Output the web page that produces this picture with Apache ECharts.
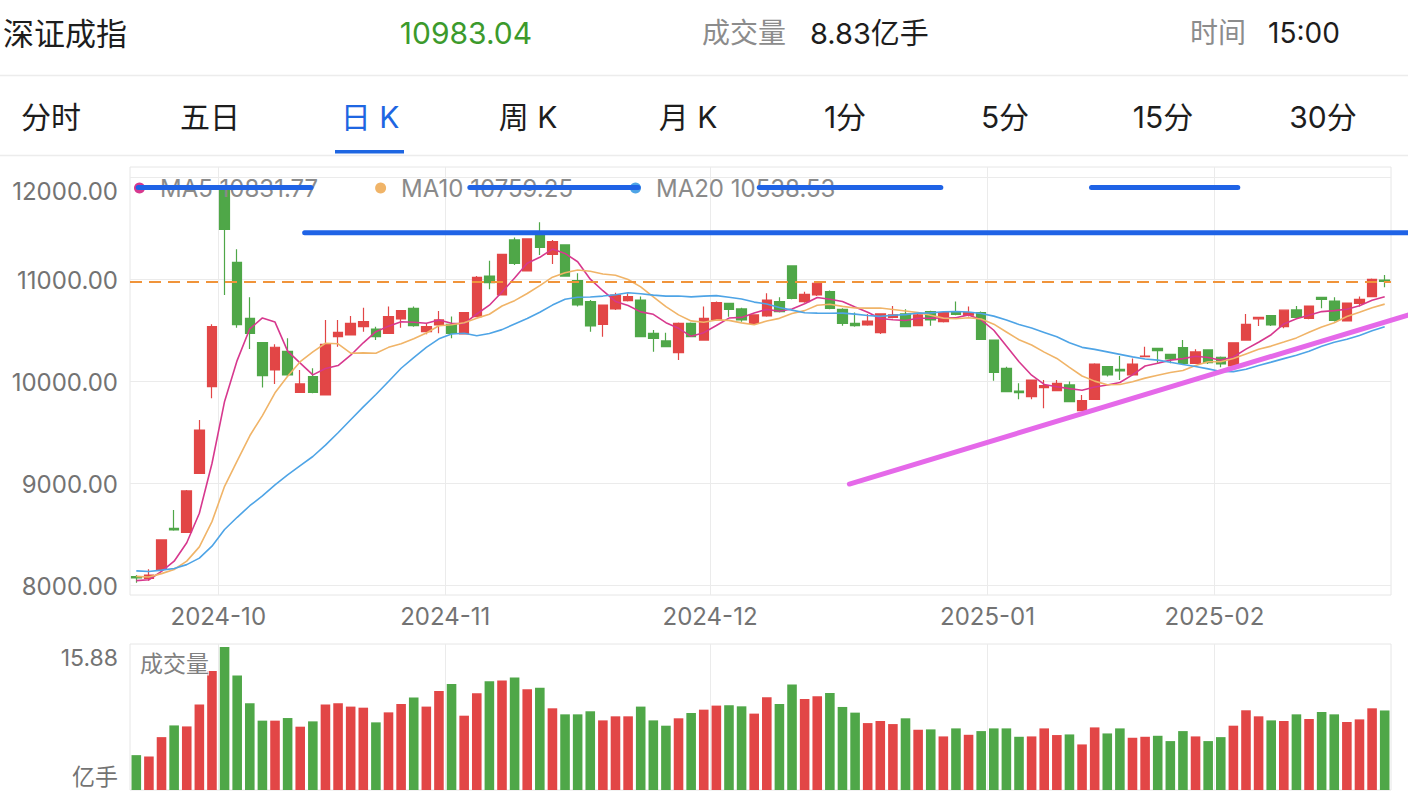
<!DOCTYPE html>
<html><head><meta charset="utf-8">
<script src="https://cdn.jsdelivr.net/npm/echarts@6/dist/echarts.min.js"></script>
<style>html,body{margin:0;padding:0;background:#fff;}#c{width:1408px;height:798px;}</style>
</head><body><div id="c"></div>
<script>
const dates = ['2024-09-20','2024-09-23','2024-09-24','2024-09-25','2024-09-26','2024-09-27','2024-09-30',
'2024-10-08','2024-10-09','2024-10-10','2024-10-11','2024-10-14','2024-10-15','2024-10-16','2024-10-17','2024-10-18','2024-10-21','2024-10-22','2024-10-23','2024-10-24','2024-10-25','2024-10-28','2024-10-29','2024-10-30','2024-10-31',
'2024-11-01','2024-11-04','2024-11-05','2024-11-06','2024-11-07','2024-11-08','2024-11-11','2024-11-12','2024-11-13','2024-11-14','2024-11-15','2024-11-18','2024-11-19','2024-11-20','2024-11-21','2024-11-22','2024-11-25','2024-11-26','2024-11-27','2024-11-28','2024-11-29',
'2024-12-02','2024-12-03','2024-12-04','2024-12-05','2024-12-06','2024-12-09','2024-12-10','2024-12-11','2024-12-12','2024-12-13','2024-12-16','2024-12-17','2024-12-18','2024-12-19','2024-12-20','2024-12-23','2024-12-24','2024-12-25','2024-12-26','2024-12-27','2024-12-30','2024-12-31',
'2025-01-02','2025-01-03','2025-01-06','2025-01-07','2025-01-08','2025-01-09','2025-01-10','2025-01-13','2025-01-14','2025-01-15','2025-01-16','2025-01-17','2025-01-20','2025-01-21','2025-01-22','2025-01-23','2025-01-24','2025-01-27',
'2025-02-05','2025-02-06','2025-02-07','2025-02-10','2025-02-11','2025-02-12','2025-02-13','2025-02-14','2025-02-17','2025-02-18','2025-02-19','2025-02-20','2025-02-21','2025-02-24'];

const opens = [8085,8069,8157,8559,8520,9099,9950,11880,11170,10620,
10381,10113,10296,9894,10048,9868,10440,10457,10538,10515,
10473,10614,10718,10489,10555,10561,10466,10636,11035,10849,
11389,11085,11438,11248,11340,10990,10784,10561,10712,10793,
10800,10473,10398,10283,10571,10407,10610,10767,10712,10571,
10643,10784,11134,10784,10849,10882,10708,10571,10555,10479,
10630,10663,10548,10686,10587,10676,10650,10676,10407,10129,
9907,9851,9940,9910,9966,9714,9825,10146,10120,10064,
10244,10326,10267,10332,10178,10310,10238,10152,10407,10615,
10646,10538,10702,10620,10826,10790,10594,10767,10833,10996];

const closes = [8072,8101,8445,8543,8926,9524,10538,11493,10558,10473,
10057,10336,10064,9976,9894,10365,10483,10571,10587,10440,
10636,10695,10548,10538,10604,10473,10676,11022,10970,11248,
11160,11399,11317,11372,11035,10751,10545,10751,10849,10833,
10440,10424,10342,10571,10440,10620,10774,10708,10604,10653,
10800,10686,10816,10856,10964,10718,10571,10548,10594,10663,
10653,10538,10653,10604,10676,10659,10676,10414,10090,9900,
9891,10015,9959,9982,9802,9812,10172,10064,10103,10172,
10250,10303,10221,10178,10290,10185,10172,10380,10560,10630,
10555,10700,10630,10740,10806,10600,10770,10806,11003,10983.04];

const lows = [8026,8046,8150,8536,8517,9093,9835,10849,10528,10319,
9940,9976,10048,9894,9884,9868,10342,10457,10489,10407,
10473,10528,10538,10463,10473,10424,10466,10636,10905,10849,
11143,11085,11241,11153,11035,10735,10489,10440,10702,10784,
10440,10293,10335,10211,10434,10407,10610,10636,10587,10565,
10636,10676,10806,10774,10839,10708,10548,10538,10548,10466,
10620,10538,10548,10548,10578,10650,10637,10414,10008,9894,
9825,9825,9737,9910,9796,9708,9818,10048,10015,10058,
10238,10185,10178,10172,10172,10172,10139,10145,10400,10545,
10545,10522,10620,10610,10718,10590,10590,10735,10828,10924];

const highs = [8101,8157,8451,8739,8935,9622,10561,11900,11297,10826,
10381,10365,10424,10113,10129,10604,10604,10643,10725,10538,
10735,10695,10735,10571,10692,10637,10676,11035,11186,11248,
11412,11399,11562,11389,11340,11062,10800,10751,10872,10865,
10833,10506,10479,10578,10578,10735,10784,10774,10725,10653,
10865,10826,11140,10882,10970,10892,10718,10676,10663,10670,
10741,10708,10670,10695,10686,10784,10735,10686,10407,10146,
9982,10015,10015,10015,9999,9868,10178,10150,10250,10227,
10342,10330,10272,10407,10316,10316,10245,10385,10663,10635,
10650,10705,10741,10745,10830,10826,10775,10833,11012,11045];

// 成交量 (亿手)
const volumes = [3.87,3.72,5.87,7.17,7.06,9.48,13.20,15.88,12.71,9.63,
7.70,7.70,7.99,7.03,7.62,9.48,9.63,9.26,9.14,7.51,
8.62,9.55,10.26,9.26,11.00,11.78,8.25,10.74,12.08,12.16,
12.49,11.19,11.34,9.07,8.40,8.40,8.74,7.73,8.18,8.18,
9.26,7.73,7.14,7.96,8.55,8.92,9.37,9.41,9.29,8.48,
10.30,9.55,11.71,10.11,10.41,10.78,9.22,8.59,7.43,7.66,
7.32,7.96,6.69,6.73,5.95,6.84,6.13,6.54,6.84,6.84,
5.91,5.95,6.84,6.10,6.17,5.06,6.95,6.28,6.84,5.80,
5.91,6.02,5.43,6.54,5.95,5.43,5.87,7.14,8.85,8.18,
7.73,7.66,8.40,7.88,8.66,8.40,7.55,7.84,9.07,8.83];

// estimated closes before the visible window (only used to warm up the moving averages)
const priorCloses = [8210,8185,8230,8160,8250,8190,8215,8170,8200,8140,8160,8120,8135,8110,8125,8060,8030,8050,8020];

const maNames = ['MA5','MA10','MA20'];
const maPeriods = [5,10,20];
const maLegendValues = ['10831.77','10759.25','10538.53'];
const priceTicks = [8000,9000,10000,11000,12000];

// drawn annotations: [xIndexStart, priceStart, xIndexEnd, priceEnd]
const blueMarks = [[0.15,11904,13.85,11904],[26.45,11904,39.8,11904],[49.4,11904,63.8,11904],[75.75,11904,87.35,11904],[13.35,11460,101.2,11460]];
const trendMarks = [[56.55,8994,101.2,10665]];

const headerName = '深证成指';
const headerVolLabel = '成交量';
const headerTimeLabel = '时间';
const headerTime = '15:00';
const tabs = ['分时','五日','日 K','周 K','月 K','1分','5分','15分','30分'];
const activeTab = 2;

const FONT = 'Inter, "Noto Sans CJK SC", sans-serif';
const RED = '#e24646', GREEN = '#4fa748';
const MA_COLORS = ['#d7388e','#f0b468','#4ea4e6'];
const AXIS_TXT = '#737373';

function movingAvg(n){
  const all = priorCloses.concat(closes), off = priorCloses.length;
  return closes.map((_, i) => {
    const j = i + off;
    if (j - n + 1 < 0) return '-';
    let s = 0; for (let k = j - n + 1; k <= j; k++) s += all[k];
    return +(s / n).toFixed(2);
  });
}

const N = dates.length;
const monthPos = [], monthLab = [];
for (let i = 1; i < N; i++) {
  if (dates[i].slice(0,7) !== dates[i-1].slice(0,7)) { monthPos.push(i - 0.5); monthLab.push(dates[i].slice(0,7)); }
}
const lastClose = closes[N-1];
const lastVol = volumes[N-1];
const volMax = Math.max(...volumes);

const chart = echarts.init(document.getElementById('c'), null, {renderer:'svg'});

const graphic = [
  {type:'text', x:3, y:33, style:{text:headerName, fontSize:31, fontFamily:FONT, fill:'#1d1d1d', verticalAlign:'middle'}},
  {type:'text', x:466, y:33, style:{text:lastClose.toFixed(2), fontSize:30, fontFamily:FONT, fill:'#3c9a2c', align:'center', verticalAlign:'middle'}},
  {type:'text', x:702, y:33, style:{text:headerVolLabel, fontSize:28, fontFamily:FONT, fill:'#8c8c8c', verticalAlign:'middle'}},
  {type:'text', x:810, y:33, style:{text:lastVol.toFixed(2)+'亿手', fontSize:29, fontFamily:FONT, fill:'#1d1d1d', verticalAlign:'middle'}},
  {type:'text', x:1190, y:33, style:{text:headerTimeLabel, fontSize:28, fontFamily:FONT, fill:'#8c8c8c', verticalAlign:'middle'}},
  {type:'text', x:1268, y:33, style:{text:headerTime, fontSize:28, fontFamily:FONT, fill:'#1d1d1d', verticalAlign:'middle'}},
  {type:'line', shape:{x1:0,y1:75.5,x2:1408,y2:75.5}, style:{stroke:'#ececec', lineWidth:1.5}},
  {type:'line', shape:{x1:0,y1:155.5,x2:1408,y2:155.5}, style:{stroke:'#ececec', lineWidth:1.5}},
  {type:'rect', shape:{x:335, y:150, width:69, height:3.5}, style:{fill:'#1e66e2'}},
  {type:'text', x:140, y:664, z:100, style:{text:'成交量', fontSize:23, fontFamily:FONT, fill:'#808080', verticalAlign:'middle', backgroundColor:'rgba(255,255,255,0.75)'}}
];
const tabCenters = [51,210,370,528,688,845,1005,1163,1323];
tabs.forEach((t, i) => graphic.push({type:'text', x:tabCenters[i], y:117, style:{text:t, fontSize:30, fontFamily:FONT, fill: i===activeTab ? '#1e66e2' : '#1d1d1d', align:'center', verticalAlign:'middle'}}));

function segRender(color){
  return function(params, api){
    const p1 = api.coord([api.value(0), api.value(1)]);
    const p2 = api.coord([api.value(2), api.value(3)]);
    return {type:'line', shape:{x1:p1[0],y1:p1[1],x2:p2[0],y2:p2[1]}, style:{stroke:color, lineWidth:5, lineCap:'round'}};
  };
}

const monthFmt = v => { const k = monthPos.findIndex(p => Math.abs(p - v) < 0.01); return k >= 0 ? monthLab[k] : ''; };

const option = {
  animation:false,
  backgroundColor:'#fff',
  textStyle:{fontFamily:FONT},
  graphic: graphic,
  legend:{
    data:maNames, left:134, top:176, padding:0, icon:'circle', itemWidth:11, itemHeight:11, itemGap:57,
    selectedMode:false,
    textStyle:{color:'#8a8a8a', fontSize:24, fontFamily:FONT, padding:[0,0,0,10]},
    formatter: name => name + ' ' + maLegendValues[maNames.indexOf(name)]
  },
  grid:[
    {left:130, right:17, top:167, height:428, show:true, borderColor:'#e6e6e6', borderWidth:1, backgroundColor:'transparent'},
    {left:130, right:17, top:644, bottom:8, show:true, borderColor:'#e6e6e6', borderWidth:1, backgroundColor:'transparent'}
  ],
  xAxis:[
    {type:'category', gridIndex:0, data:dates, boundaryGap:true, axisLine:{show:false}, axisTick:{show:false}, axisLabel:{show:false}, splitLine:{show:false}},
    {type:'value', gridIndex:0, min:-0.5, max:N-0.5, position:'bottom', axisLine:{show:false},
      axisTick:{show:false, customValues:monthPos},
      axisLabel:{customValues:monthPos, formatter:monthFmt, color:AXIS_TXT, fontSize:24, fontFamily:FONT, margin:9},
      splitLine:{show:true, lineStyle:{color:'#ebebeb', width:1}}},
    {type:'category', gridIndex:1, data:dates, boundaryGap:true, axisLine:{show:false}, axisTick:{show:false}, axisLabel:{show:false}, splitLine:{show:false}},
    {type:'value', gridIndex:1, min:-0.5, max:N-0.5, axisLine:{show:false},
      axisTick:{show:false, customValues:monthPos}, axisLabel:{show:false},
      splitLine:{show:true, lineStyle:{color:'#ebebeb', width:1}}}
  ],
  yAxis:[
    {type:'value', gridIndex:0, min:7905, max:12105, axisLine:{show:false},
      axisTick:{show:false, customValues:priceTicks},
      axisLabel:{customValues:priceTicks, color:AXIS_TXT, fontSize:24, fontFamily:FONT, margin:12,
        formatter: v => (v === priceTicks[priceTicks.length-1] ? '{t|' : '{n|') + v.toFixed(2) + '}',
        rich:{t:{padding:[28,0,0,0], fontSize:24, color:AXIS_TXT, fontFamily:FONT}, n:{padding:[2,0,0,0], fontSize:24, color:AXIS_TXT, fontFamily:FONT}}},
      splitLine:{show:true, lineStyle:{color:'#ebebeb', width:1}}},
    {type:'value', gridIndex:1, min:0, max:16.21, axisLine:{show:false},
      axisTick:{show:false, customValues:[0, volMax]},
      axisLabel:{customValues:[0, volMax], color:AXIS_TXT, fontSize:23, fontFamily:FONT, margin:12,
        formatter: v => v === 0 ? '{b|亿手}' : '{t|' + v.toFixed(2) + '}',
        rich:{t:{padding:[23,0,0,0], fontSize:23, color:AXIS_TXT, fontFamily:FONT}, b:{padding:[0,0,27,0], fontSize:23, color:AXIS_TXT, fontFamily:FONT}}},
      splitLine:{show:false}}
  ],
  series:[
    {type:'candlestick', name:'K', xAxisIndex:0, yAxisIndex:0, barWidth:10,
      data: opens.map((o, i) => [o, closes[i], lows[i], highs[i]]),
      itemStyle:{color:RED, color0:GREEN, borderColor:RED, borderColor0:GREEN, borderWidth:1.2},
      markLine:{silent:true, symbol:['none','none'], label:{show:false},
        lineStyle:{color:'#f0943a', type:[12,7], width:2}, data:[{yAxis:lastClose}]}},
    ...maNames.map((n, k) => ({type:'line', name:n, xAxisIndex:0, yAxisIndex:0, data:movingAvg(maPeriods[k]),
      showSymbol:false, symbol:'circle', smooth:false, color:MA_COLORS[k], lineStyle:{width:1.6, color:MA_COLORS[k]}})),
    {type:'custom', name:'blueMarks', xAxisIndex:1, yAxisIndex:0, z:20, silent:true, clip:false,
      renderItem:segRender('#1f63e6'), data:blueMarks},
    {type:'custom', name:'trendMarks', xAxisIndex:1, yAxisIndex:0, z:20, silent:true, clip:false,
      renderItem:segRender('#e569e9'), data:trendMarks},
    {type:'bar', name:'成交量', xAxisIndex:2, yAxisIndex:1, barWidth:'76%',
      data: volumes.map((v, i) => ({value:v, itemStyle:{color: closes[i] >= opens[i] ? RED : GREEN}}))}
  ]
};
chart.setOption(option);
</script></body></html>
